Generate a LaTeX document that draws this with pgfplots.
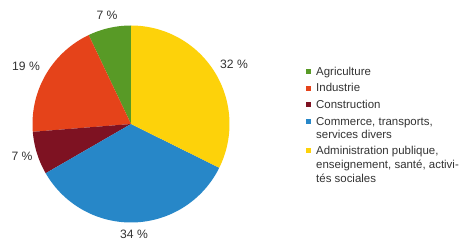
\documentclass[border=0pt]{standalone}
\usepackage{fontspec}
\setmainfont{Liberation Sans}
\usepackage{pgfplots}
\pgfplotsset{compat=1.18}
\definecolor{cAgr}{HTML}{589A26}
\definecolor{cInd}{HTML}{E5431A}
\definecolor{cCon}{HTML}{7E1222}
\definecolor{cCom}{HTML}{2787C8}
\definecolor{cAdm}{HTML}{FDD20A}
\definecolor{txt}{HTML}{333333}
% shares (percent)
\def\vAgr{7}\def\vInd{19}\def\vCon{7}\def\vCom{34}\def\vAdm{32}
\pgfmathsetmacro{\tot}{\vAgr+\vInd+\vCon+\vCom+\vAdm}
\pgfmathsetmacro{\aA}{90}
\pgfmathsetmacro{\aB}{\aA+360*\vAgr/\tot}
\pgfmathsetmacro{\aC}{\aB+360*\vInd/\tot}
\pgfmathsetmacro{\aD}{\aC+360*\vCon/\tot}
\pgfmathsetmacro{\aE}{\aD+360*\vCom/\tot}
\pgfmathsetmacro{\aF}{\aE+360*\vAdm/\tot}
\def\cx{131}\def\cy{116}\def\rr{98.5}
\begin{document}
\begin{tikzpicture}
\begin{axis}[
  scale only axis, width=465bp, height=240bp,
  xmin=0, xmax=465, ymin=0, ymax=240,
  hide axis, clip=false,
]
% pie slices
\addplot[fill=cAgr, draw=none, domain=\aA:\aB, samples=30, variable=\t]
  ({\cx+\rr*cos(\t)},{\cy+\rr*sin(\t)}) -- (axis cs:\cx,\cy) -- cycle;
\addplot[fill=cInd, draw=none, domain=\aB:\aC, samples=60, variable=\t]
  ({\cx+\rr*cos(\t)},{\cy+\rr*sin(\t)}) -- (axis cs:\cx,\cy) -- cycle;
\addplot[fill=cCon, draw=none, domain=\aC:\aD, samples=30, variable=\t]
  ({\cx+\rr*cos(\t)},{\cy+\rr*sin(\t)}) -- (axis cs:\cx,\cy) -- cycle;
\addplot[fill=cCom, draw=none, domain=\aD:\aE, samples=100, variable=\t]
  ({\cx+\rr*cos(\t)},{\cy+\rr*sin(\t)}) -- (axis cs:\cx,\cy) -- cycle;
\addplot[fill=cAdm, draw=none, domain=\aE:\aF, samples=100, variable=\t]
  ({\cx+\rr*cos(\t)},{\cy+\rr*sin(\t)}) -- (axis cs:\cx,\cy) -- cycle;
% legend keys
\addplot[fill=cAgr, draw=none] coordinates {(306,166) (311,166) (311,171) (306,171)} -- cycle;
\addplot[fill=cInd, draw=none] coordinates {(306,149.3) (311,149.3) (311,154.3) (306,154.3)} -- cycle;
\addplot[fill=cCon, draw=none] coordinates {(306,132.7) (311,132.7) (311,137.7) (306,137.7)} -- cycle;
\addplot[fill=cCom, draw=none] coordinates {(306,116) (311,116) (311,121) (306,121)} -- cycle;
\addplot[fill=cAdm, draw=none] coordinates {(306,86.5) (311,86.5) (311,91.5) (306,91.5)} -- cycle;
\begin{scope}[every node/.style={font=\fontsize{11.5}{14}\selectfont, text=txt, inner sep=0pt, anchor=base west}]
\node at (axis cs:316,165) {Agriculture};
\node at (axis cs:316,148.3) {Industrie};
\node at (axis cs:316,131.7) {Construction};
\node at (axis cs:316,115) {Commerce, transports,};
\node at (axis cs:316,101.7) {services divers};
\node at (axis cs:316,85.5) {Administration publique,};
\node at (axis cs:316,71.7) {enseignement, santé, activi-};
\node at (axis cs:316,57.7) {tés sociales};
\end{scope}
\begin{scope}[every node/.style={font=\fontsize{12.2}{14}\selectfont, text=txt}]
\node at (axis cs:234,176) {32 \%};
\node at (axis cs:134,6) {34 \%};
\node at (axis cs:22,84) {7 \%};
\node at (axis cs:26,174) {19 \%};
\node at (axis cs:107,225) {7 \%};
\end{scope}
\end{axis}
\pgfresetboundingbox
\useasboundingbox (current axis.south west) rectangle (current axis.north east);
\end{tikzpicture}
\end{document}
